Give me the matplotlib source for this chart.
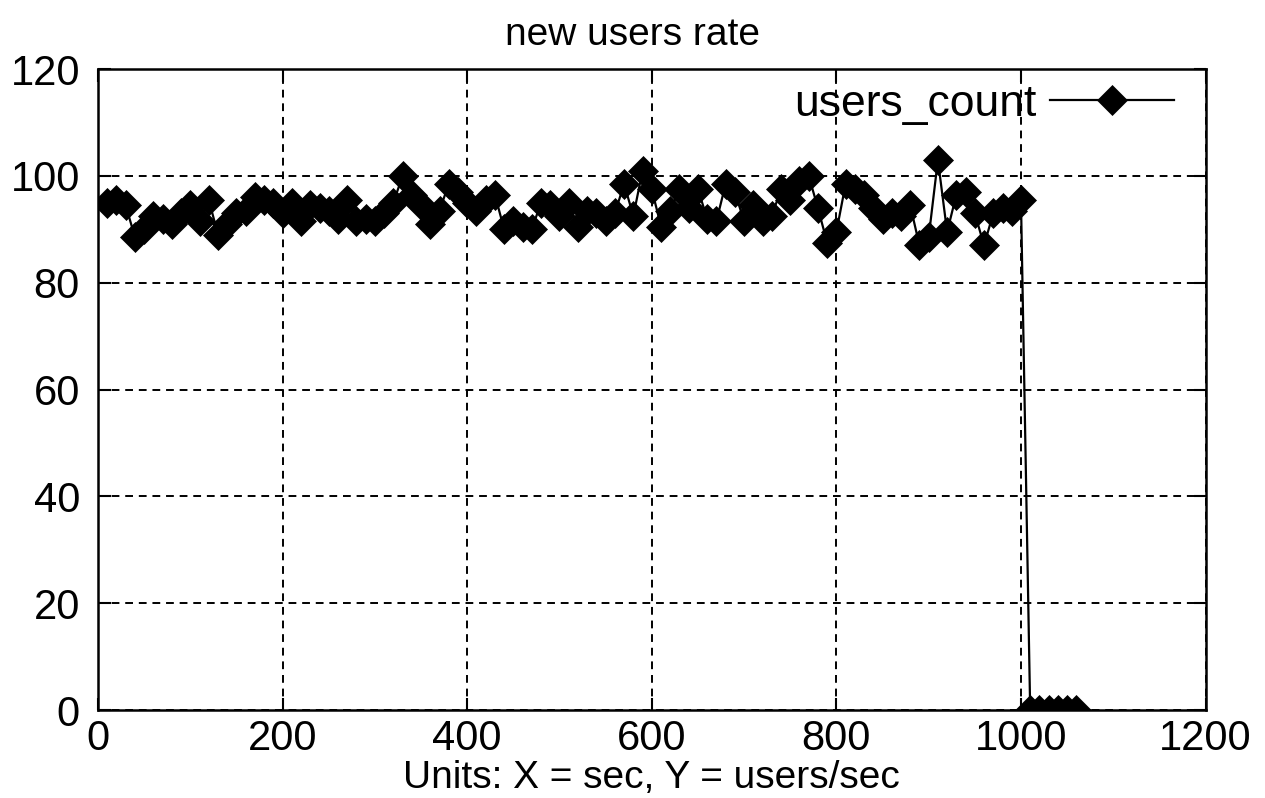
import matplotlib
matplotlib.use("Agg")
import matplotlib.pyplot as plt

plt.rcParams['font.family'] = ['Liberation Sans', 'DejaVu Sans']

seconds = list(range(10, 1070, 10))
users_count = [
    95, 95.5, 94.5, 88.5, 90, 92.5, 92, 91, 93, 94.5,
    91.5, 95.5, 89, 91, 93, 93.5, 96, 95.5, 95, 93,
    95, 91.5, 94.5, 94, 93.5, 92, 95.5, 91.5, 92, 91.5,
    93, 95, 100, 96.5, 94.5, 91, 93.5, 98.5, 97, 95,
    93.5, 95.5, 96.5, 90, 91.5, 90.5, 90, 95, 94.5, 92.5,
    95, 90.5, 93.5, 93, 91.5, 93, 98.5, 92.5, 101, 97.5,
    90.5, 93.5, 97.5, 94, 97.5, 92, 91.5, 98.5, 97, 91.5,
    94.5, 91.5, 92.5, 97.5, 95.5, 99, 100, 94, 87.5, 89.5,
    98.5, 97.5, 96.5, 94, 92, 93, 92.5, 94.5, 87, 88.5,
    103, 89.5, 96.5, 97, 93, 87, 93, 94, 93.5, 95.5,
    0, 0, 0, 0, 0, 0,
]
x_ticks = [0, 200, 400, 600, 800, 1000, 1200]
y_ticks = [0, 20, 40, 60, 80, 100, 120]

fig = plt.figure(figsize=(12.65, 7.98), dpi=100)
ax = fig.add_axes([0.0775, 0.110, 0.8755, 0.8035])

ax.plot(seconds, users_count, color='black', lw=1.6, marker='D', ms=15,
        markerfacecolor='black', markeredgecolor='black', markeredgewidth=0.5,
        label='users_count')

ax.set_xlim(0, 1200)
ax.set_ylim(0, 120)
ax.set_xticks(x_ticks)
ax.set_yticks(y_ticks)
ax.tick_params(direction='in', length=9, width=1.5, labelsize=30,
               top=True, right=True)
ax.tick_params(axis='x', pad=6)
ax.tick_params(axis='y', pad=13)
ax.grid(True, color='black', linestyle=(0, (4, 3)), lw=1.4)
for s in ax.spines.values():
    s.set_linewidth(1.8)

fig.text(0.5, 0.956, 'new users rate', fontsize=28, ha='center', va='center')
ax.set_xlabel('Units: X = sec, Y = users/sec', fontsize=28, labelpad=1)

leg = ax.legend(loc='upper right', frameon=False, fontsize=32, markerfirst=False,
                handlelength=2.8, handletextpad=0.3, borderaxespad=0.0,
                bbox_to_anchor=(0.988, 1.005))

fig.savefig('out.png', dpi=100)
